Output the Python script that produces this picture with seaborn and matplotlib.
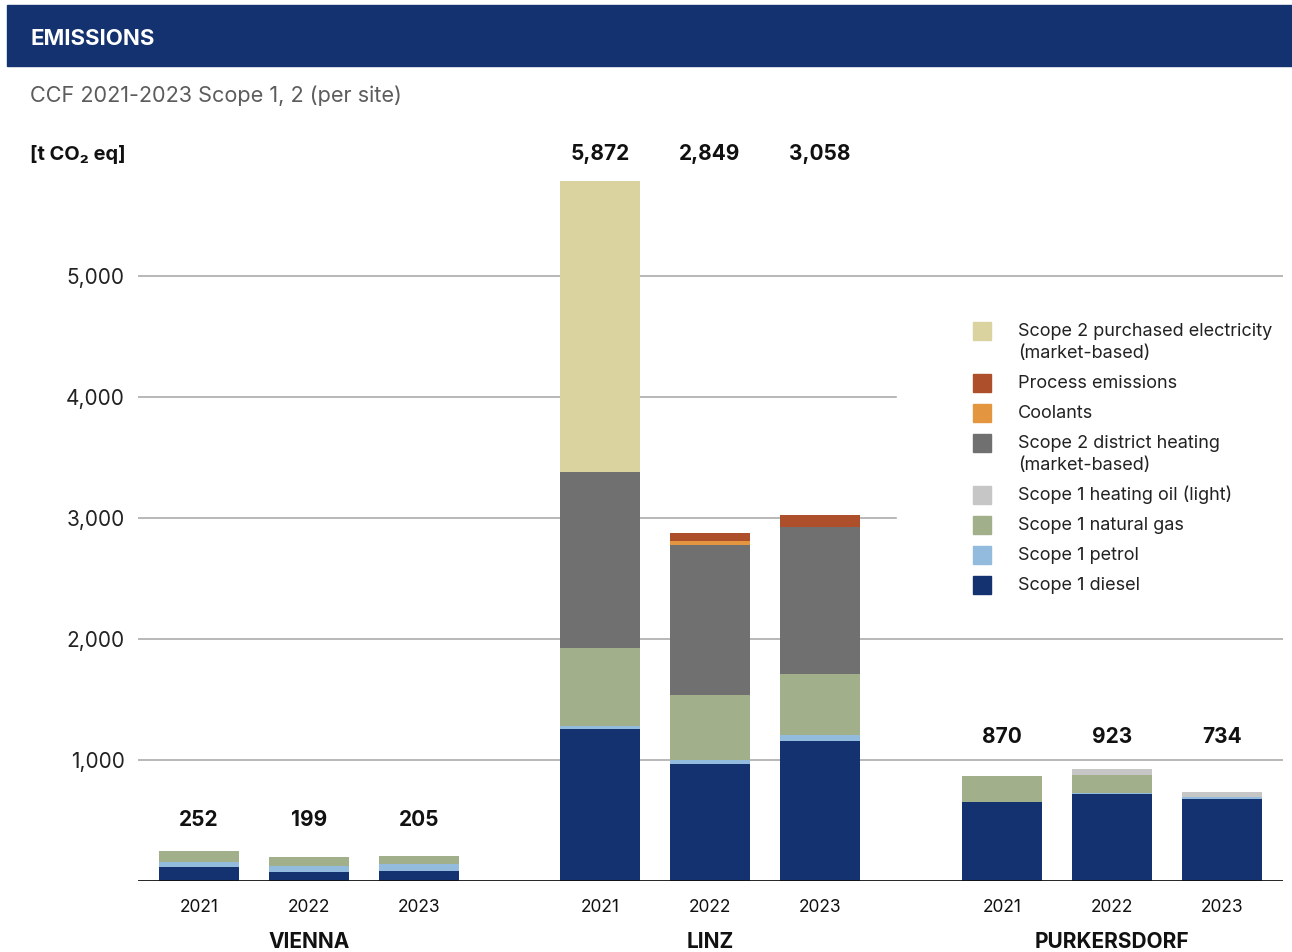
import numpy as np
import pandas as pd
import matplotlib
matplotlib.use("Agg")
import matplotlib.pyplot as plt
import seaborn as sns
from matplotlib.patches import Rectangle

# ---------------- data ----------------
sites = ["VIENNA", "LINZ", "PURKERSDORF"]
years = ["2021", "2022", "2023"]
total_labels = ["252", "199", "205", "5,872", "2,849", "3,058", "870", "923", "734"]

series_names = [
    "Scope 1 diesel",
    "Scope 1 petrol",
    "Scope 1 natural gas",
    "Scope 1 heating oil (light)",
    "Scope 2 district heating\n(market-based)",
    "Coolants",
    "Process emissions",
    "Scope 2 purchased electricity\n(market-based)",
]
# values per bar: Vienna 21/22/23, Linz 21/22/23, Purkersdorf 21/22/23
diesel = [115, 75, 85, 1256, 967, 1157, 650, 720, 680]
petrol = [42, 45, 57, 25, 33, 50, 5, 5, 16]
natural_gas = [95, 79, 63, 645, 537, 504, 215, 150, 0]
heating_oil = [0, 0, 0, 0, 0, 0, 0, 48, 38]
district_heating = [0, 0, 0, 1454, 1240, 1215, 0, 0, 0]
coolants = [0, 0, 0, 0, 33, 0, 0, 0, 0]
process_emissions = [0, 0, 0, 0, 66, 99, 0, 0, 0]
electricity = [0, 0, 0, 2405, 0, 0, 0, 0, 0]

y_ticks = [1000, 2000, 3000, 4000, 5000]

# ---------------- style ----------------
colors = ["#143270", "#93BBDD", "#A1AF8B", "#C6C6C6", "#707070", "#E3963F", "#AE4F2B", "#DBD39F"]
W, H = 1292, 952
group_starts = [0.0, 3.645, 7.30]
label_heights = [505, 6010, 1190]
FONT = ["Inter", "DejaVu Sans"]

sns.set_theme(style="white")
plt.rcParams["font.family"] = FONT

fig = plt.figure(figsize=(W / 100, H / 100), dpi=100)


def fx(x):
    return x / W


def fy(y):
    return 1 - y / H


ax_left, ax_right, ax_bottom = 138, 1283, 881
ymax = 6300
ppu = 0.121  # pixels per unit
ax_top = ax_bottom - ymax * ppu
ax = fig.add_axes([fx(ax_left), fy(ax_bottom), (ax_right - ax_left) / W, (ax_bottom - ax_top) / H])

positions = [g + i for g in group_starts for i in range(3)]
layers = [diesel, petrol, natural_gas, heating_oil, district_heating, coolants,
          process_emissions, electricity]
cum = np.cumsum(np.array(layers, dtype=float), axis=0)

for k in range(len(layers) - 1, -1, -1):
    df = pd.DataFrame({"x": positions, "y": cum[k]})
    sns.barplot(data=df, x="x", y="y", color=colors[k], saturation=1, width=80 / 110,
                native_scale=True, errorbar=None, linewidth=0, ax=ax, zorder=2)

ax.set_xlim(-(199 - ax_left) / 110, (ax_right - 199) / 110)
ax.set_ylim(0, ymax)
for s in ["top", "right", "left", "bottom"]:
    ax.spines[s].set_visible(False)
ax.set_yticks(y_ticks)
ax.set_yticklabels([f"{v:,}" for v in y_ticks], fontsize=15, color="#222222")
ax.tick_params(axis="y", length=0, pad=9.5)
ax.set_xticks(positions)
ax.set_xticklabels(years * 3, fontsize=12.5, color="#111111")
ax.tick_params(axis="x", length=0, pad=13)
ax.set_xlabel("")
ax.set_ylabel("")
ax.yaxis.grid(True, color="#ABABAB", linewidth=1.2, zorder=0)
ax.xaxis.grid(False)
ax.set_axisbelow(True)
ax.axhline(0, color="#111111", linewidth=2, zorder=5)

# totals
for i, (p, lab) in enumerate(zip(positions, total_labels)):
    ax.text(p, label_heights[i // 3], lab, ha="center", va="center",
            fontsize=15, fontweight="bold", color="#111111")

# site names
for g, site in zip(group_starts, sites):
    xpix = ax_left + (g + 1 + (199 - ax_left) / 110) * 110
    fig.text(fx(xpix), fy(942), site, ha="center", va="center",
             fontsize=15, fontweight="bold", color="#111111")

# header
fig.patches.append(Rectangle((fx(7), fy(66)), (W - 7) / W, 61 / H, transform=fig.transFigure,
                             color="#14326F", zorder=1))
fig.text(fx(30), fy(39), "EMISSIONS", ha="left", va="center", fontsize=16,
         fontweight="bold", color="white", zorder=3)
fig.text(fx(30), fy(96), "CCF 2021-2023 Scope 1, 2 (per site)", ha="left", va="center",
         fontsize=15.6, color="#5C5C5C")
fig.text(fx(30), fy(154), "[t CO₂ eq]", ha="left", va="center", fontsize=14.4,
         fontweight="bold", color="#111111", family=FONT)

# legend (white box covering gridlines)
fig.patches.append(Rectangle((fx(897), fy(606)), (1284 - 897) / W, (606 - 305) / H,
                             transform=fig.transFigure, color="white", zorder=1))
legend_rows = [331, 383, 413, 443, 495, 525, 555, 585]
for row_y, k in zip(legend_rows, range(len(series_names) - 1, -1, -1)):
    fig.patches.append(Rectangle((fx(973), fy(row_y + 9)), 18 / W, 18 / H,
                                 transform=fig.transFigure, color=colors[k], zorder=2))
    for j, line in enumerate(series_names[k].split("\n")):
        fig.text(fx(1018), fy(row_y + 22 * j), line, ha="left", va="center",
                 fontsize=13, color="#222222", zorder=3)

fig.savefig("out.png", dpi=100, facecolor="white")
